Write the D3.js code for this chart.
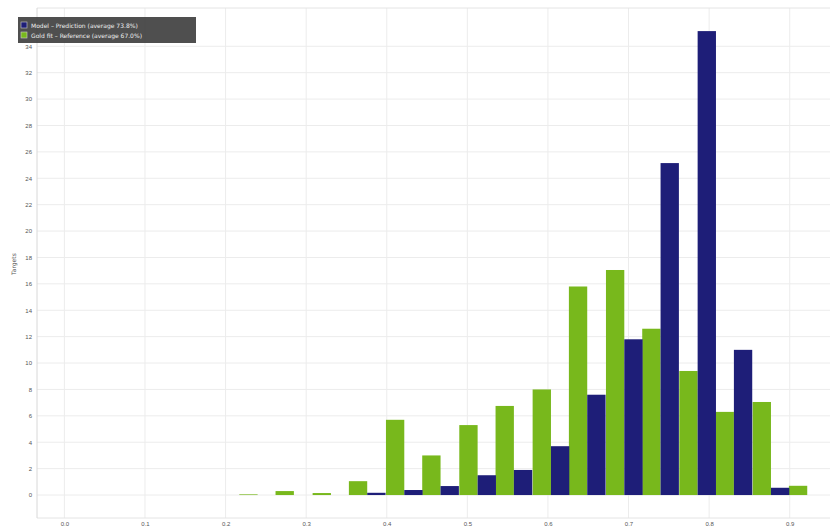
<!DOCTYPE html>
<html>
<head>
<meta charset="utf-8">
<script src="https://cdn.jsdelivr.net/npm/d3@7/dist/d3.min.js"></script>
<style>
  html, body { margin: 0; padding: 0; background: #fff; }
  svg { display: block; font-family: "DejaVu Sans", sans-serif; }
</style>
</head>
<body>
<svg id="chart" width="832" height="531"></svg>
<script>
// Left edge of each score bin (bins are paired: first series left, second right)
const binStarts = [0.217, 0.262, 0.308, 0.353, 0.399, 0.444, 0.490, 0.535,
                   0.581, 0.626, 0.672, 0.717, 0.763, 0.808, 0.854, 0.899];
const binWidth = 0.0455;

// Share of targets (%) per bin
const greenValues = [0.05, 0.3, 0.15, 1.05, 5.7, 3.0, 5.3, 6.75,
                     8.0, 15.8, 17.05, 12.6, 9.4, 6.3, 7.05, 0.7];
const blueValues  = [0, 0, 0, 0.17, 0.38, 0.68, 1.5, 1.9,
                     3.7, 7.6, 11.8, 25.15, 35.15, 11.0, 0.55, 0];

const xTicks = [0.0, 0.1, 0.2, 0.3, 0.4, 0.5, 0.6, 0.7, 0.8, 0.9];
const yTicks = [0, 2, 4, 6, 8, 10, 12, 14, 16, 18, 20, 22, 24, 26, 28, 30, 32, 34];

const legendLabels = ["Model – Prediction (average 73.8%)",
                      "Gold fit – Reference (average 67.0%)"];
const colors = { green: "#78b81c", blue: "#1e1e78" };

const svg = d3.select("#chart");
const plot = { left: 37, right: 830, top: 8, bottom: 518 };

const x = d3.scaleLinear().domain([-0.034, 0.95]).range([plot.left, plot.right]);
const y = d3.scaleLinear().domain([-1.74, 36.9]).range([plot.bottom, plot.top]);

// grid
const grid = svg.append("g");
grid.selectAll("line.h").data(yTicks).join("line")
  .attr("x1", plot.left).attr("x2", plot.right)
  .attr("y1", d => y(d)).attr("y2", d => y(d))
  .attr("stroke", "#ececec").attr("stroke-width", 1);
grid.selectAll("line.v").data(xTicks).join("line")
  .attr("y1", plot.top).attr("y2", plot.bottom)
  .attr("x1", d => x(d)).attr("x2", d => x(d))
  .attr("stroke", "#ececec").attr("stroke-width", 1);
grid.append("line").attr("x1", plot.left).attr("x2", plot.right)
  .attr("y1", plot.top).attr("y2", plot.top).attr("stroke", "#e4e4e4");
grid.append("line").attr("x1", plot.left).attr("x2", plot.right)
  .attr("y1", plot.bottom).attr("y2", plot.bottom).attr("stroke", "#e4e4e4");
grid.append("line").attr("x1", plot.left).attr("x2", plot.left)
  .attr("y1", plot.top).attr("y2", plot.bottom).attr("stroke", "#d8d8d8");

// axes
const yAxis = d3.axisLeft(y).tickValues(yTicks).tickSize(0).tickPadding(5);
const ya = svg.append("g").attr("transform", `translate(${plot.left},0)`).call(yAxis);
ya.select(".domain").remove();
ya.selectAll("text").attr("fill", "#555").style("font-size", "6px");

const xAxis = d3.axisBottom(x).tickValues(xTicks).tickSize(0).tickPadding(4)
  .tickFormat(d3.format(".1f"));
const xa = svg.append("g").attr("transform", `translate(0,${plot.bottom})`).call(xAxis);
xa.select(".domain").remove();
xa.selectAll("text").attr("fill", "#555").style("font-size", "6px");

svg.append("text")
  .attr("transform", `translate(16,${y(17.5)}) rotate(-90)`)
  .attr("text-anchor", "middle").attr("fill", "#555").style("font-size", "6px")
  .text("Targets");

// bars
const half = binWidth / 2;
const bars = svg.append("g");
bars.selectAll("rect.g").data(binStarts.map((b, i) => ({ b, v: greenValues[i] })))
  .join("rect")
  .attr("x", d => x(d.b)).attr("width", x(d3.min(binStarts) + half) - x(d3.min(binStarts)))
  .attr("y", d => y(d.v)).attr("height", d => y(0) - y(d.v))
  .attr("fill", colors.green);
bars.selectAll("rect.b").data(binStarts.map((b, i) => ({ b, v: blueValues[i] })))
  .join("rect")
  .attr("x", d => x(d.b + half)).attr("width", x(d3.min(binStarts) + half) - x(d3.min(binStarts)))
  .attr("y", d => y(d.v)).attr("height", d => y(0) - y(d.v))
  .attr("fill", colors.blue);

// legend
const lg = svg.append("g").attr("transform", "translate(18,17)");
lg.append("rect").attr("width", 178).attr("height", 26).attr("fill", "#3c3c3c").attr("opacity", 0.9);
const swatchColors = [colors.blue, colors.green];
legendLabels.forEach((t, i) => {
  lg.append("rect").attr("x", 3).attr("y", 5 + i * 10).attr("width", 6).attr("height", 6)
    .attr("fill", swatchColors[i]).attr("stroke", "#ccc").attr("stroke-width", 0.6);
  lg.append("text").attr("x", 13).attr("y", 10.5 + i * 10).attr("fill", "#eee")
    .style("font-size", "6px").text(t);
});
</script>
</body>
</html>
